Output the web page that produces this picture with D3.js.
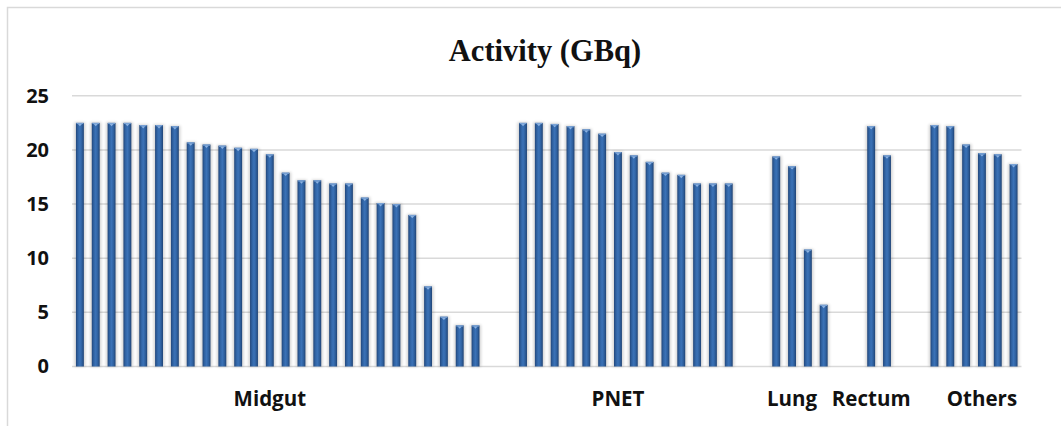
<!DOCTYPE html>
<html>
<head>
<meta charset="utf-8">
<script src="https://cdn.jsdelivr.net/npm/d3@7"></script>
<style>
  html, body { margin: 0; padding: 0; background: #fff; }
  svg { display: block; }
</style>
</head>
<body>
<svg id="chart" width="1061" height="426"></svg>
<script>
// ---- data ----
const title = "Activity (GBq)";
const groups = ["Midgut", "PNET", "Lung", "Rectum", "Others"];
const midgut = [22.5, 22.5, 22.5, 22.5, 22.3, 22.3, 22.2, 20.7, 20.5, 20.4, 20.2, 20.1, 19.6, 17.9,
                17.2, 17.2, 16.9, 16.9, 15.6, 15.1, 15.0, 14.0, 7.4, 4.6, 3.8, 3.8];
const pnet = [22.5, 22.5, 22.4, 22.2, 21.9, 21.5, 19.8, 19.5, 18.9, 17.9, 17.7, 16.9, 16.9, 16.9];
const lung = [19.4, 18.5, 10.8, 5.7];
const rectum = [22.2, 19.5];
const others = [22.3, 22.2, 20.5, 19.7, 19.6, 18.7];
const groupValues = [midgut, pnet, lung, rectum, others];
const labelSlotInGroup = [12, 6, 1, 0, 3];   // category that carries the group name
const emptySlotsBetween = 2;
const yTicks = [0, 5, 10, 15, 20, 25];

// ---- build category slots ----
const slots = [];
groups.forEach((g, gi) => {
  if (gi > 0) for (let k = 0; k < emptySlotsBetween; k++) slots.push({ id: slots.length, value: null, label: "" });
  groupValues[gi].forEach((v, i) => {
    slots.push({ id: slots.length, value: v, label: i === labelSlotInGroup[gi] ? g : "" });
  });
});

// ---- layout ----
const svg = d3.select("#chart");
const W = 1061, H = 426;
const plot = { left: 72, right: 1021.5, top: 95.8, bottom: 366.5 };

const x = d3.scaleBand()
  .domain(slots.map(d => d.id))
  .range([plot.left, plot.right])
  .paddingInner(0.5)
  .paddingOuter(0.25);

const y = d3.scaleLinear().domain([0, 25]).range([plot.bottom, plot.top]);

// frame
svg.append("path")
  .attr("d", `M7.5,${H} L7.5,7.5 L${W},7.5`)
  .attr("fill", "none").attr("stroke", "#d9d9d9").attr("stroke-width", 1.5);

// defs
const defs = svg.append("defs");
const grad = defs.append("linearGradient").attr("id", "barGrad")
  .attr("x1", "0").attr("x2", "1").attr("y1", "0").attr("y2", "0");
[[0, "#22467a"], [0.25, "#3063a3"], [0.5, "#3b72b7"], [0.75, "#2f61a0"], [1, "#204374"]]
  .forEach(([o, c]) => grad.append("stop").attr("offset", o).attr("stop-color", c));
const blur = defs.append("filter").attr("id", "shadow")
  .attr("x", "-100%").attr("y", "-10%").attr("width", "300%").attr("height", "120%");
blur.append("feGaussianBlur").attr("stdDeviation", 1.6);

// title
svg.append("text")
  .attr("x", 545).attr("y", 61)
  .attr("text-anchor", "middle")
  .attr("font-family", "'Liberation Serif', 'DejaVu Serif', serif")
  .attr("font-weight", "bold")
  .attr("font-size", 30.5)
  .attr("fill", "#111")
  .text(title);

// gridlines
svg.append("g").selectAll("line").data(yTicks).join("line")
  .attr("x1", plot.left).attr("x2", plot.right)
  .attr("y1", d => y(d)).attr("y2", d => y(d))
  .attr("stroke", "#d9d9d9").attr("stroke-width", 1.5);

// y axis labels
const yAxis = d3.axisLeft(y).tickValues(yTicks).tickSize(0).tickPadding(0);
const gy = svg.append("g").attr("transform", "translate(49,0)").call(yAxis);
gy.select(".domain").remove();
gy.selectAll("text")
  .attr("font-family", "'Open Sans', 'DejaVu Sans', sans-serif")
  .attr("font-weight", "bold")
  .attr("font-size", 20)
  .attr("fill", "#111");

// bars
const barData = slots.filter(d => d.value !== null);
const bw = x.bandwidth();

svg.append("g").selectAll("rect").data(barData).join("rect")
  .attr("x", d => x(d.id) - 1.5)
  .attr("y", d => y(d.value) - 0.5)
  .attr("width", bw + 3)
  .attr("height", d => y(0) - y(d.value) + 0.5)
  .attr("fill", "#000").attr("opacity", 0.18)
  .attr("filter", "url(#shadow)");

svg.append("g").selectAll("rect").data(barData).join("rect")
  .attr("x", d => x(d.id))
  .attr("y", d => y(d.value))
  .attr("width", bw)
  .attr("height", d => y(0) - y(d.value))
  .attr("fill", "url(#barGrad)");

// top bevel highlight
svg.append("g").selectAll("rect").data(barData).join("rect")
  .attr("x", d => x(d.id) + 0.5)
  .attr("y", d => y(d.value))
  .attr("width", bw - 1)
  .attr("height", 1.2)
  .attr("fill", "#7aa3d6");
svg.append("g").selectAll("path").data(barData).join("path")
  .attr("d", d => {
    const cx = x(d.id) + bw / 2, ty = y(d.value) + 1.2;
    return `M${cx - 2},${ty} L${cx + 2},${ty} L${cx},${ty + 2.2} Z`;
  })
  .attr("fill", "#8db2e0");

// x category labels
const gx = svg.append("g").attr("transform", `translate(0,${plot.bottom})`)
  .call(d3.axisBottom(x).tickSize(0).tickPadding(0).tickFormat(id => slots[id].label));
gx.select(".domain").remove();
gx.selectAll("text")
  .attr("dy", 0).attr("y", 39)
  .attr("font-family", "'Open Sans', 'DejaVu Sans', sans-serif")
  .attr("font-weight", "bold")
  .attr("font-size", 20.5)
  .attr("fill", "#111");
</script>
</body>
</html>
